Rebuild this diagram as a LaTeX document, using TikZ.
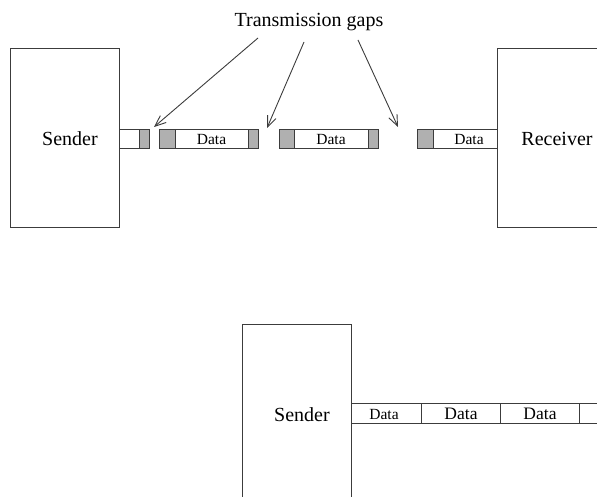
\documentclass[tikz,border=0pt]{standalone}
\usepackage{fontspec}
\setmainfont{Liberation Serif}
\usetikzlibrary{arrows.meta}
\definecolor{ink}{HTML}{3C3C3C}
\definecolor{hdr}{HTML}{B0B0B0}
\tikzset{
  x=1pt, y=-1pt,
  box/.style={draw=ink, line width=1pt, fill=white},
  hdrcell/.style={draw=ink, line width=1pt, fill=hdr},
  cell/.style={draw=ink, line width=1pt, fill=white},
  lbl/.style={inner sep=0pt, font=\fontsize{20}{20}\selectfont},
  small/.style={inner sep=0pt, font=\fontsize{15.5}{16}\selectfont},
  big/.style={inner sep=0pt, font=\fontsize{17.5}{18}\selectfont},
  gap/.style={draw=ink, line width=0.9pt, -{Straight Barb[length=11pt,width=9pt,line width=0.9pt]}},
}
\begin{document}
\begin{tikzpicture}
\useasboundingbox (0,0) rectangle (597,497);
\clip (0,0) rectangle (597,497);

% --- upper scenario: packets separated by gaps ---
\draw[box] (10,49) rectangle (119,228);
\node[lbl] (snd) at (70,139) {Sender};

\draw[box] (497,49) rectangle (610,228);
\node[lbl] (rcv) at (557,139) {Receiver};

% stub leaving the sender
\draw[cell] (119,130) rectangle (149,149);
\draw[hdrcell] (139,130) rectangle (149,149);

% first full packet
\draw[cell] (159,130) rectangle (258,149);
\draw[hdrcell] (159,130) rectangle (175,149);
\draw[hdrcell] (248,130) rectangle (258,149);
\node[small] (d1) at (211.5,139.5) {Data};

% second full packet
\draw[cell] (279,130) rectangle (378,149);
\draw[hdrcell] (279,130) rectangle (294,149);
\draw[hdrcell] (368,130) rectangle (378,149);
\node[small] (d2) at (331,139.5) {Data};

% packet entering the receiver
\draw[cell] (417,130) rectangle (497,149);
\draw[hdrcell] (417,130) rectangle (433,149);
\node[small] (d3) at (469,139.5) {Data};

% label and pointers to the gaps
\node[lbl] (gaps) at (309,22) {Transmission gaps};
\coordinate (s1) at (258,38);
\coordinate (s2) at (304,42);
\coordinate (s3) at (358,40);
\coordinate (g1) at (154,127);
\coordinate (g2) at (267,128);
\coordinate (g3) at (398,127);
\draw[gap] (s1) -- (g1);
\draw[gap] (s2) -- (g2);
\draw[gap] (s3) -- (g3);

% --- lower scenario: continuous stream ---
\draw[box] (242,324) rectangle (351,520);
\node[lbl] (snd2) at (302,415) {Sender};

\draw[cell] (351,403) rectangle (610,423);
\draw[ink, line width=1pt] (421,403) -- (421,423);
\draw[ink, line width=1pt] (500,403) -- (500,423);
\draw[ink, line width=1pt] (579,403) -- (579,423);
\node[small] (e1) at (384,414) {Data};
\node[big] (e2) at (461,414) {Data};
\node[big] (e3) at (540,414) {Data};
\end{tikzpicture}
\end{document}
